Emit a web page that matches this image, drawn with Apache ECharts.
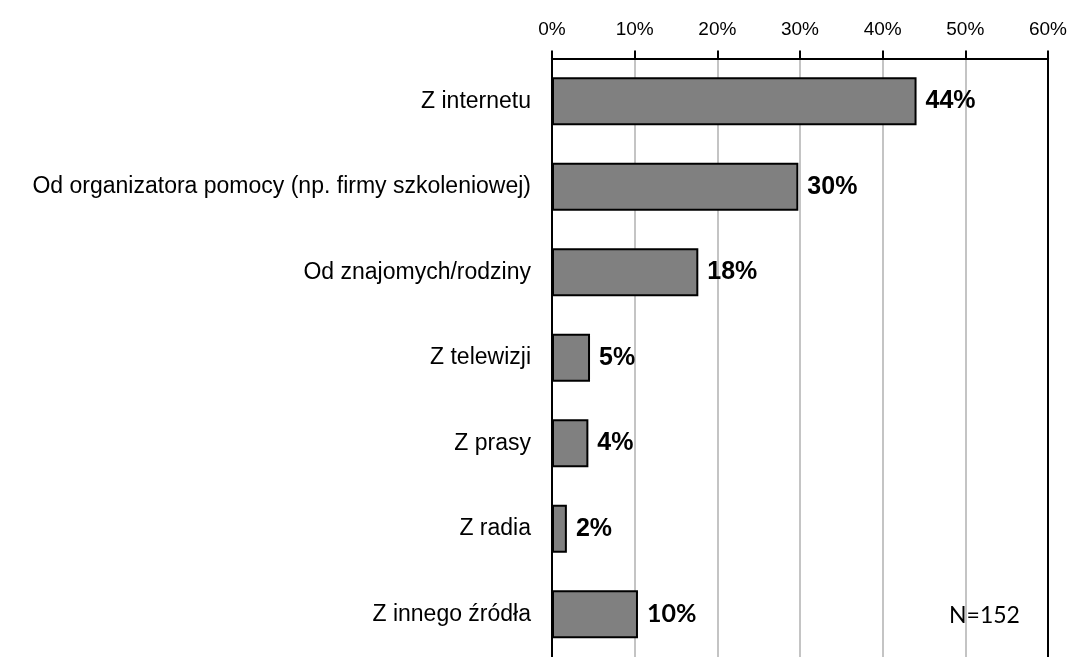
<!DOCTYPE html>
<html>
<head>
<meta charset="utf-8">
<script src="https://cdn.jsdelivr.net/npm/echarts@6/dist/echarts.min.js"></script>
<style>
html,body{margin:0;padding:0;background:#fff;}
#chart{width:1070px;height:657px;}
</style>
</head>
<body>
<div id="chart"></div>
<script>
const categories = [
  "Z internetu",
  "Od organizatora pomocy (np. firmy szkoleniowej)",
  "Od znajomych/rodziny",
  "Z telewizji",
  "Z prasy",
  "Z radia",
  "Z innego źródła"
];
const values = [44.1, 29.8, 17.7, 4.6, 4.4, 1.8, 10.4];
const valueLabels = ["44%", "30%", "18%", "5%", "4%", "2%", "10%"];
const tickLabels = ["0%", "10%", "20%", "30%", "40%", "50%", "60%"];
const noteText = "N=152";

const chart = echarts.init(document.getElementById('chart'), null, {renderer: 'canvas'});

const seriesData = values.map((v, i) => {
  const item = {value: v};
  if (i === values.length - 1) {
    item.label = {fontFamily: 'Lato', fontSize: 25};
  }
  return item;
});

chart.setOption({
  animation: false,
  backgroundColor: '#ffffff',
  grid: {left: 552, right: 21, top: 58.5, bottom: -4, containLabel: false},
  xAxis: {
    type: 'value',
    position: 'top',
    min: 0, max: 60, interval: 10,
    axisLine: {show: true, lineStyle: {color: '#000', width: 2}},
    axisTick: {show: true, inside: false, length: 8, lineStyle: {color: '#000', width: 2}},
    axisLabel: {
      margin: 19,
      color: '#000',
      fontFamily: 'Liberation Sans, Arial, sans-serif',
      fontSize: 19,
      formatter: (v) => tickLabels[Math.round(v / 10)]
    },
    splitLine: {show: true, lineStyle: {color: '#c4c4c4', width: 2}}
  },
  yAxis: [{
    type: 'category',
    data: categories,
    inverse: true,
    position: 'left',
    axisLine: {show: true, lineStyle: {color: '#000', width: 2}},
    axisTick: {show: false},
    axisLabel: {
      margin: 21,
      color: '#000',
      fontFamily: 'Liberation Sans, Arial, sans-serif',
      fontSize: 23
    }
  }, {
    type: 'category',
    data: categories,
    inverse: true,
    position: 'right',
    axisLine: {show: true, onZero: false, lineStyle: {color: '#000', width: 2}},
    axisTick: {show: false},
    axisLabel: {show: false}
  }],
  series: [{
    type: 'bar',
    yAxisIndex: 0,
    data: seriesData,
    barWidth: 48,
    itemStyle: {color: '#808080', borderColor: '#000', borderWidth: 2},
    label: {
      show: true,
      position: 'right',
      distance: 9,
      color: '#000',
      fontWeight: 'bold',
      fontFamily: 'Liberation Sans, Arial, sans-serif',
      fontSize: 25,
      formatter: (p) => valueLabels[p.dataIndex]
    }
  }],
  graphic: [{
    type: 'text',
    left: 949,
    top: 604,
    style: {
      text: noteText,
      fill: '#000',
      font: '23px Lato'
    }
  }]
});
</script>
</body>
</html>
